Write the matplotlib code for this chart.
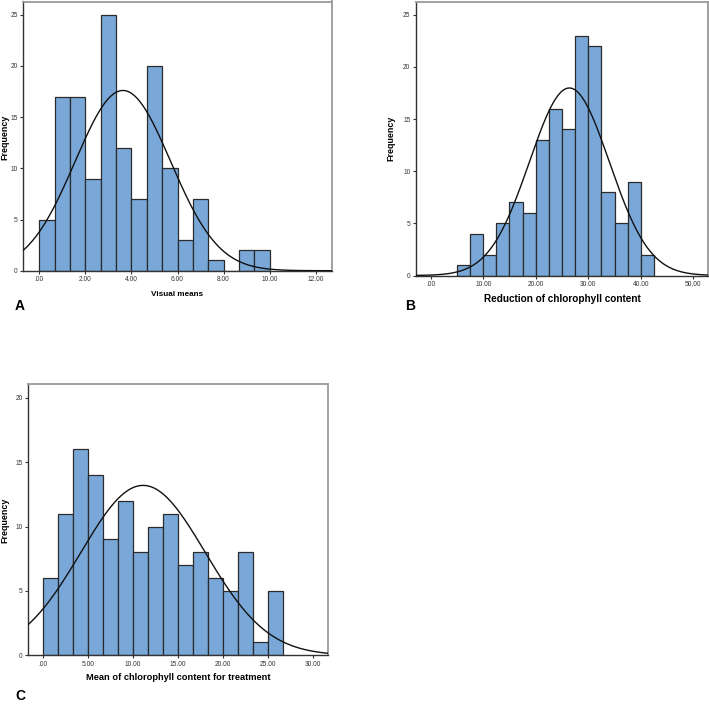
import numpy as np
import matplotlib.pyplot as plt

plt.rcParams['font.family'] = ['Liberation Sans', 'DejaVu Sans']

# Panel A: Visual means
a_start = 0.0
a_width = 2 / 3
a_counts = [5, 17, 17, 9, 25, 12, 7, 20, 10, 3, 7, 1, 0, 2, 2]
a_mean, a_sd, a_n = 3.63, 2.07, 137
a_xticks = [0, 2, 4, 6, 8, 10, 12]
a_yticks = [0, 5, 10, 15, 20, 25]

# Panel B: Reduction of chlorophyll content
b_start = 5.0
b_width = 2.5
b_counts = [1, 4, 2, 5, 7, 6, 13, 16, 14, 23, 22, 8, 5, 9, 2]
b_mean, b_sd, b_n = 26.4, 7.6, 137
b_xticks = [0, 10, 20, 30, 40, 50]
b_yticks = [0, 5, 10, 15, 20, 25]

# Panel C: Mean of chlorophyll content for treatment
c_start = 0.0
c_width = 5 / 3
c_counts = [6, 11, 16, 14, 9, 12, 8, 10, 11, 7, 8, 6, 5, 8, 1, 5]
c_mean, c_sd, c_n = 11.15, 6.9, 137
c_xticks = [0, 5, 10, 15, 20, 25, 30]
c_yticks = [0, 5, 10, 15, 20]

W, H = 709, 704
BAR = '#79a8d8'


def fmt(v):
    s = '%.2f' % v
    return s[1:] if s.startswith('0') else s


def panel(fig, box, start, width, counts, mean, sd, n, xlim, ylim,
          xticks, yticks, xlabel, letter, xlab_pos, ylab_pos, letter_pos,
          xlab_size):
    l, r, t, b = box
    ax = fig.add_axes([l / W, 1 - b / H, (r - l) / W, (b - t) / H])
    edges = start + width * np.arange(len(counts))
    ax.bar(edges, counts, width=width, align='edge', color=BAR,
           edgecolor='#2b2b2b', linewidth=0.9, zorder=2)
    # normal curve fitted to the data
    xs = np.linspace(xlim[0], xlim[1], 400)
    ys = n * width / (sd * np.sqrt(2 * np.pi)) * np.exp(-(xs - mean) ** 2 / (2 * sd ** 2))
    ax.plot(xs, ys, color='#111111', lw=1.0, zorder=3)
    ax.set_xlim(*xlim)
    ax.set_ylim(*ylim)
    ax.set_xticks(xticks)
    ax.set_xticklabels([fmt(v) for v in xticks])
    ax.set_yticks(yticks)
    ax.tick_params(labelsize=4.8, length=2.5, width=0.8, pad=1.5,
                   colors='#333333')
    for s in ['left', 'bottom']:
        ax.spines[s].set_color('#333333')
        ax.spines[s].set_linewidth(1.0)
    for s in ['top', 'right']:
        ax.spines[s].set_color('#a0a0a0')
        ax.spines[s].set_linewidth(1.4)
    fig.text(xlab_pos[0] / W, 1 - xlab_pos[1] / H, xlabel, ha='center',
             va='center', fontsize=xlab_size, fontweight='bold')
    fig.text(ylab_pos[0] / W, 1 - ylab_pos[1] / H, 'Frequency', ha='center',
             va='center', rotation=90, fontsize=6.4, fontweight='bold')
    fig.text(letter_pos[0] / W, 1 - letter_pos[1] / H, letter, ha='center',
             va='center', fontsize=10, fontweight='bold')
    return ax


fig = plt.figure(figsize=(W / 100, H / 100), dpi=100)

panel(fig, (23.3, 331.5, 1.5, 270.7), a_start, a_width, a_counts,
      a_mean, a_sd, a_n, (-0.69, 12.68), (0, 26.29), a_xticks, a_yticks,
      'Visual means', 'A', (177, 295), (5, 137), (20, 306), 5.9)

panel(fig, (416, 708, 1.5, 275.5), b_start, b_width, b_counts,
      b_mean, b_sd, b_n, (-2.8, 52.8), (0, 26.27), b_xticks, b_yticks,
      'Reduction of chlorophyll content', 'B', (562, 299), (391, 138),
      (410, 306), 7.2)

panel(fig, (28.3, 328.3, 384, 655.3), c_start, c_width, c_counts,
      c_mean, c_sd, c_n, (-1.6, 31.73), (0, 21.08), c_xticks, c_yticks,
      'Mean of chlorophyll content for treatment', 'C', (178, 678),
      (5, 520), (20, 696), 6.7)

fig.savefig('out.png', dpi=100)
